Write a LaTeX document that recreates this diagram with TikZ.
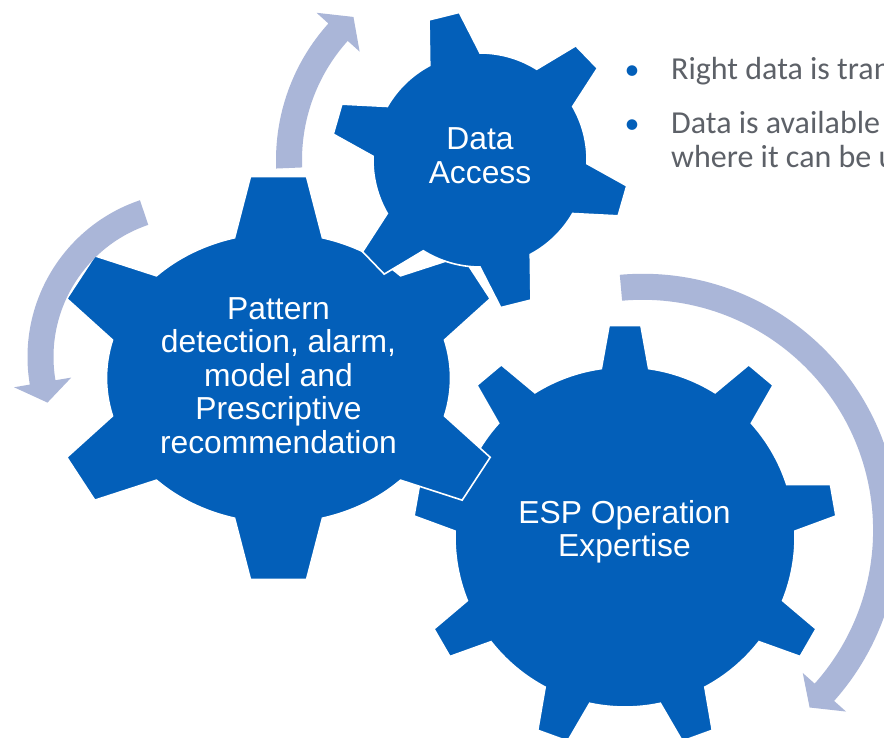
\documentclass[tikz,border=0pt]{standalone}
\usepackage{fontspec}
\setmainfont{Liberation Sans}
\newfontfamily\bulletfont{Carlito}
\definecolor{gearblue}{HTML}{035FB9}
\definecolor{arrowgray}{HTML}{AAB6D8}
\definecolor{notegray}{HTML}{5D6168}
\tikzset{
  gear/.style={fill=gearblue, draw=white, line width=1.6pt, line join=miter},
  cyclearrow/.style={fill=arrowgray},
  gearlabel/.style={text=white, align=center, inner sep=0pt, anchor=base,
    font=\fontsize{31.8}{33.5}\selectfont},
  notetext/.style={text=notegray, align=left, inner sep=0pt, anchor=base west,
    font=\bulletfont\fontsize{32}{34.4}\selectfont},
  notedot/.style={text=gearblue, inner sep=0pt, anchor=base,
    font=\bulletfont\fontsize{30}{34.4}\selectfont},
}
% Gear outline: #1 path options, #2 number of teeth, #3 angle of the first tooth,
% #4/#5 body radii (x/y), #6 tooth height, #7 half-angle at the tooth root,
% #8 half-angle at the tooth tip
\newcommand\gearoutline[8]{%
  \path[#1] ({#4*cos(#3-#7)},{#5*sin(#3-#7)})
  \foreach \k [evaluate=\k as \gA using {#3+(\k-1)*360/#2},
               evaluate=\k as \gB using {#3+(\k-1)*360/#2+#7},
               evaluate=\k as \gE using {#3+\k*360/#2-#7}] in {1,...,#2} {
    -- ({(#4+#6)*cos(\gA-#8)},{(#5+#6)*sin(\gA-#8)})
    -- ({(#4+#6)*cos(\gA+#8)},{(#5+#6)*sin(\gA+#8)})
    -- ({#4*cos(\gB)},{#5*sin(\gB)})
    arc[start angle=\gB, end angle=\gE, x radius=#4, y radius=#5]
  } -- cycle;
}
% Curved block arrow around a centre: #1 centre, #2 mid radius, #3 start angle,
% #4 angle of the head's back, #5 angle of the tip
\newcommand\cyclearrow[5]{%
  \begin{scope}[shift={#1}]
    \fill[cyclearrow] ({#3}:{#2+13}) arc[start angle=#3, end angle=#4, radius=#2+13]
      -- ({#4}:{#2+29}) -- ({#5}:{#2}) -- ({#4}:{#2-29}) -- ({#4}:{#2-13})
      arc[start angle=#4, end angle=#3, radius=#2-13] -- cycle;
  \end{scope}
}
\begin{document}
\begin{tikzpicture}[x=1pt,y=1pt]
\useasboundingbox (0,0) rectangle (884,738);
\fill[white] (0,0) rectangle (884,738);

% gears, back to front
\gearoutline{gear, shift={(625,201)}}{9}{90}{170}{170}{42}{8}{4.3}
\gearoutline{gear, shift={(278.5,360)}}{6}{90}{172}{145}{58}{14.8}{7}
\gearoutline{gear, shift={(480,578)}}{6}{104}{107}{107}{42}{14}{6}

% turning arrows
\cyclearrow{(480,578)}{191}{182.4}{138}{131.5}
\cyclearrow{(193,381)}{152.5}{108.7}{189.6}{197.4}
\cyclearrow{(642.6,207.7)}{243.5}{95.1}{-41.7}{-46.7}

% gear labels (anchored at the baseline of the last line)
\node[gearlabel] (access) at (480,554.5) {Data\\Access};
\node[gearlabel] (pattern) at (278.5,284.7) {Pattern\\detection, alarm,\\model and\\Prescriptive\\recommendation};
\node[gearlabel] (expertise) at (624.5,181.3) {ESP Operation\\Expertise};

% notes
\node[notedot] (dot1) at (632,658.7) {•};
\node[notetext] (note1) at (671,658.7) {Right data is tran};
\node[notedot] (dot2) at (632,604.7) {•};
\node[notetext] (note2) at (671,570.3) {Data is available\\where it can be u};
\end{tikzpicture}
\end{document}
